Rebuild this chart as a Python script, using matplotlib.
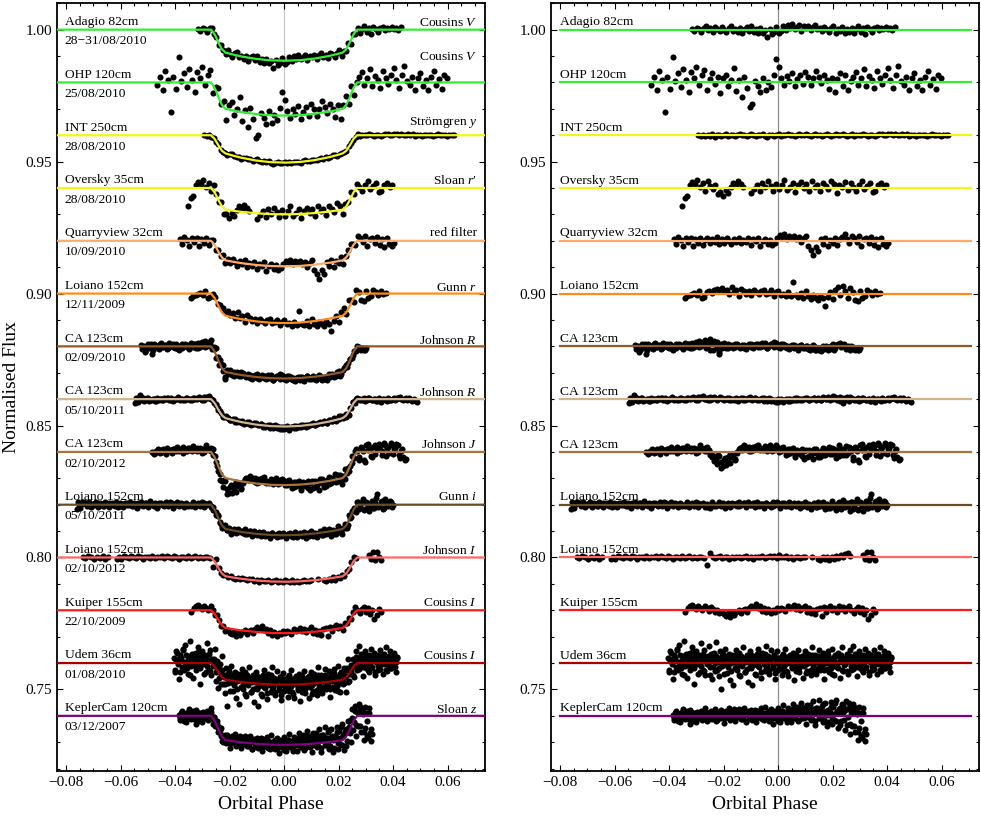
import matplotlib
matplotlib.use("Agg")
import matplotlib.pyplot as plt
import numpy as np
from matplotlib.ticker import MultipleLocator, FuncFormatter

plt.rcParams['font.family'] = ['Liberation Serif', 'DejaVu Serif']
plt.rcParams['mathtext.fontset'] = 'custom'
plt.rcParams['mathtext.rm'] = 'Liberation Serif'
plt.rcParams['mathtext.it'] = 'Liberation Serif:italic'

# ---------------- data ----------------
NAMES = ["Adagio 82cm", "OHP 120cm", "INT 250cm", "Oversky 35cm", "Quarryview 32cm",
         "Loiano 152cm", "CA 123cm", "CA 123cm", "CA 123cm", "Loiano 152cm",
         "Loiano 152cm", "Kuiper 155cm", "Udem 36cm", "KeplerCam 120cm"]
DATES = ["28\u221231/08/2010", "25/08/2010", "28/08/2010", "28/08/2010", "10/09/2010",
         "12/11/2009", "02/09/2010", "05/10/2011", "02/10/2012", "05/10/2011",
         "02/10/2012", "22/10/2009", "01/08/2010", "03/12/2007"]
FILTERS = ["Cousins $V$", "Cousins $V$", "Str\u00f6mgren $y$", "Sloan $r$\u2032", "red filter",
           "Gunn $r$", "Johnson $R$", "Johnson $R$", "Johnson $J$", "Gunn $i$",
           "Johnson $I$", "Cousins $I$", "Cousins $I$", "Sloan $z$"]
OFFSETS = [1.00, 0.98, 0.96, 0.94, 0.92, 0.90, 0.88, 0.86, 0.84, 0.82, 0.80, 0.78, 0.76, 0.74]
COLORS = ["#33ee33", "#33ee33", "#f5f51a", "#f5f51a", "#ffaa66", "#ff8c1a", "#8f5a26",
          "#d2b48c", "#a8743c", "#6b4a26", "#ff6666", "#ff1a1a", "#aa0000", "#800080"]
DEPTH_CENTER = [0.0118, 0.0126, 0.0104, 0.0100, 0.0097, 0.0112, 0.0122, 0.0104, 0.0126,
                0.0116, 0.0092, 0.0087, 0.0082, 0.0110]
DEPTH_EDGE = [0.0087, 0.0100, 0.0069, 0.0082, 0.0074, 0.0084, 0.0097, 0.0072, 0.0099,
              0.0092, 0.0071, 0.0067, 0.0063, 0.0092]
FILTER_DY = [0.0026, 0.0096, 0.0050, 0.0027, 0.0029, 0.0023, 0.0023, 0.0025, 0.0030,
             0.0029, 0.0025, 0.0029, 0.0025, 0.0025]

# transit contact phases and shape knots
T_INNER = 0.0215
T_OUTER = 0.0268
INGRESS_FRAC = [0.0, 0.25, 0.5, 0.75, 1.0]
INGRESS_DEPTH = [0.0, 0.2, 0.55, 0.85, 1.0]
BOTTOM_FRAC = [0.0, 0.25, 0.5, 0.75, 0.9, 1.0]
BOTTOM_SHAPE = [1.0, 0.94, 0.75, 0.44, 0.19, 0.0]

# observation phase ranges (segments) per dataset
SEG_ADAGIO = [(-0.0315, 0.0428)]
SEG_OHP = [(-0.0465, 0.0597)]
SEG_INT = [(-0.0292, 0.0623)]
SEG_OVERSKY = [(-0.0352, -0.0127), (-0.0098, 0.0397)]
SEG_QUARRY = [(-0.0383, 0.0403)]
SEG_LOI09 = [(-0.0343, 0.0373)]
SEG_CA10 = [(-0.0526, 0.0302), (-0.0522, 0.0298)]
SEG_CA11 = [(-0.0547, 0.0489), (-0.0543, 0.0485)]
SEG_CA12 = [(-0.0483, 0.0446), (-0.0479, 0.0442)]
SEG_LOI11 = [(-0.0761, 0.0400), (-0.0757, 0.0396)]
SEG_LOI12 = [(-0.0739, -0.0645), (-0.0614, -0.0273), (-0.0262, -0.0262), (-0.0250, -0.0250),
             (-0.0240, 0.0099), (0.0125, 0.0125), (0.0147, 0.0263), (0.0312, 0.0355)]
SEG_KUIPER = [(-0.0340, 0.0355)]
SEG_UDEM = [(-0.0403, 0.0416), (-0.0401, 0.0414)]
SEG_KEPLER = [(-0.0385, 0.0322), (-0.0383, 0.0320)]

# residuals in units of 1e-4 flux
RES_ADAGIO = [[2, -5, 8, 4, -9, 6, 12, -3, 5, -7, 9, 3, -6, 11, 0, -10, 7, 14, -4, 2,
               -8, 6, -12, 4, 10, -5, 13, -9, 1, -14, 5, -11, -3, -28, 3, -15, -8, 9, -13, -6,
               12, -2, 16, 7, 22, 4, 10, 18, -4, 13, 6, 15, -3, 9, 17, 1, 8, -6, 11, 3,
               -9, 5, 14, -12, 2, -5, 10, -14, 4, -8, 8, -11, 1, 12, -7, 5, -16, 9, 3, -10,
               6, 11, -2, 8, 4, 10, 1, 7, -3, 9]]
RES_OHP = [[-8, 20, -30, 45, 10, -112, 22, -25, 98, 5, 35, -18, 52, 8, -35, 40, 15, 60, -10, 28,
            48, -28, 12, 35, -5, 22, -40, 18, 30, -15, 8, 55, -32, 10, -55, 20, -20, -92, -80, 5,
            -12, -35, 15, -28, 2, -18, 30, 88, 60, 18, -8, 25, 5, 35, -15, 12, 28, -5, 40, 20,
            -10, 15, 45, 22, -3, 30, 8, -25, 18, -38, 12, 35, -15, 28, -30, 5, 22, 40, -8, 15,
            50, -12, 25, 8, -22, 42, 18, -5, 30, 55, 10, -20, 28, 62, 5, -8, 20, -30, 15, 35,
            -15, 8, -28, 22, 45, -10, 12, -25, 30, 18]]
RES_INT = [[2, -3, 1, -4, 0, -2, 3, -5, -1, 2, -3, 1, 4, -2, 0, 2, -4, 1, 3, -1,
            0, -3, 2, 5, -1, -4, 1, 0, 3, -2, -5, -1, 2, -3, 0, 4, -2, 1, -1, 3,
            0, 2, -3, 1, 5, 2, -1, 3, 0, -2, 1, 4, -1, 2, -3, 0, 3, 1, -2, 2,
            4, 0, -1, 5, 2, -2, 1, 3, -3, 0, 2, -1, 3, 0, -4, 1, 2, -2, 0, 3,
            5, 2, 1, 6, 3, 0, 4, -1, 2, 5, 1, 3, -2, 0, 2, -3, 1, -1, 2, 0,
            -2, 1, 3, -1, 0, 2, -3, 1, 0, -1]]
RES_OVERSKY = [[-68, -38, -32, 10, 22, 15, 30, 5, 18, -10, 25, 8, -5, 12, -22, -15, -30, -8, -18, 5,
                20, 12, 28, 15, 5],
               [-20, -5, 10, -12, 18, 2, 25, 8, -10, 15, -5, 12, 30, -8, 5, 20, -15, 10, 22, 0,
                15, -10, 25, 5, 12, -12, 20, 8, -5, 28, 15, -18, 10, 2, 22, -8, 18, 5, -12, 12,
                25, -5, 8, 20, -15, -10, 10, 18, 5, 12]]
RES_QUARRY = [[8, -12, 15, 2, -18, 10, -5, 12, -20, 5, -8, 10, -15, 3, 12, -10, 6, -4, 14, -12,
               5, -8, 10, 0, -14, 8, -3, 12, -10, 4, -6, 10, -15, 5, -2, 12, -18, 0, 8, -12,
               3, -15, -8, 10, 22, 15, 25, 8, 18, 12, 20, 5, 15, -5, 10, 18, -20, -35, -55, -25,
               -40, 5, -12, 10, -18, 2, -8, 12, -15, 5, 15, 25, 8, -10, 20, 12, -5, 18, -20, 8,
               12, -8, 15, -15, 5, -22, 10, -12, -18, -8]]
RES_LOI09 = [[-15, -8, -5, 0, 2, -5, 8, -18, -12, 5, 10, 2, 15, 18, 12, 20, 8, 15, 0, 25,
              5, 12, -8, 18, 8, 0, 10, -5, 12, 5, -3, 8, 15, 0, 2, 12, -8, 5, 10, -5,
              0, -10, 5, -8, 45, -5, -12, 2, -15, 8, -10, -20, -5, -15, -25, -8, -18, -48, -12, 5,
              -20, 15, 25, -5, 30, 10, -15, 20, 5, -25, -30, 10, -18, -8, 15, 5, -5, 8, 0, 3]]
RES_CA10 = [[5, -8, -22, 10, -5, -28, 8, 2, -10, 12, -3, 6, -8, 4, 10, -5, 2, -12, 8, 0,
             5, -10, 12, -2, 8, -6, 3, 15, -4, 6, 18, 25, 5, -12, 12, 20, -8, -30, 10, 2,
             -5, 8, 0, -6, 10, 4, -3, 6, -8, 2, 8, -4, 5, 10, -2, 6, 0, 12, -5, 3,
             8, 15, 5, -2, 10, 0, 6, -6, 2, -3, 5, -8, 0, 4, -5, 2, -10, -3, 5, -12,
             -8, -15, -5, -10, 0, -12, 3, 8, -6, 10, 12, 5, 2, -5, -8, 0, -10, -6, -12, -8],
            [-10, 3, -15, 0, 8, -12, 5, -6, 10, -2, 6, -9, 12, 0, -4, 8, -10, 3, -6, 9,
             -3, 6, 0, 10, -8, 12, -2, 8, 20, 2, 10, -5, 15, 28, -15, 8, 16, -20, -5, 12,
             0, -8, 7, 3, -4, 9, -6, 0, 5, -10, 3, 10, -6, 0, 8, -3, 12, 2, -8, 6,
             10, -2, 14, 4, -6, 8, -4, 0, -10, 5, -6, 2, -12, 6, -2, -8, 3, -14, -4, 0,
             -15, -5, -18, 2, -8, -3, -10, 5, -14, 6, 8, -2, 10, -10, 0, -14, -4, -15, -6, -12]]
RES_CA11 = [[-16, 0, 14, -2, -6, 3, -8, -4, 0, -7, -3, 2, -5, -1, 4, -3, -6, 0, 2, -4,
             1, -2, 5, 0, -3, 3, -1, 8, 2, -4, 10, 4, 0, 6, -2, 3, 8, -1, 5, 2,
             -3, 0, 4, -2, 2, -5, 0, 3, -3, 1, 6, 2, -2, 5, 0, -4, -1, 3, -6, -3,
             0, -8, -3, -10, 2, -5, -1, -6, 0, -4, 3, -2, 0, -5, 4, 1, -3, 2, 6, 0,
             2, -4, 5, 0, 8, 3, -1, 10, 4, -6, -14, -2, 5, 8, 2, -3, 0, -6, 3, -1,
             -5, 0, -8, -2, -5, 2, -6, 0, -3, 4, 2, 5, 0, -3, 3, -1, 1, -2, -4, -12],
            [4, -10, 8, 3, -4, 6, -2, 2, -6, 5, 1, -4, 3, 6, -2, 4, -5, 2, 7, -1,
             -5, 4, 2, -3, 6, -1, 5, 3, -2, 9, 6, 12, 2, -3, 7, 0, 4, -4, 8, 3,
             -1, 5, -4, 2, -2, 6, -6, 1, 4, -3, 2, 8, -1, 3, -5, 0, 4, -7, 1, 5,
             -6, -2, -9, 0, -4, -12, -3, 2, -7, 1, -3, 4, -5, 2, -1, 6, -4, 0, 3, -2,
             5, -3, 7, 1, 4, -5, 11, 6, -2, 8, -4, 3, 9, -8, 5, 1, -4, 4, -2, 6,
             -3, 2, -6, 3, -9, 0, -4, 5, -2, 1, -5, 3, 7, -1, 2, -4, 5, -6, 0, -8]]
RES_CA12 = [[0, -5, 3, 8, -2, 5, -6, 2, 6, 10, 4, 12, 8, -3, 10, 5, 14, 2, 8, 15,
             6, 10, -2, 18, 12, 5, 20, 8, -5, -15, -25, -10, -40, -55, -22, -35, -8, -18, -30, -5,
             12, 18, 10, 20, 5, 15, 8, 22, 14, 6, 10, 18, 5, 25, 12, 8, 20, 0, 15, 10,
             5, -8, 10, 3, -12, 8, -5, -15, 2, -18, 8, -10, 12, -5, -20, 5, -12, 10, -2, -8,
             15, -5, 8, -15, 12, 2, -10, 18, 5, -20, 10, -32, 25, 8, -15, 20, -8, 12, 22, -12,
             28, 15, -5, 25, 10, 30, -10, 5, -18, -25],
            [-8, 5, 12, -3, 10, 0, 15, 6, -4, 12, 18, 2, 10, 20, 5, 14, 8, 22, 10, 4,
             16, -3, 12, 25, 8, 15, 2, -10, -20, -35, -45, -15, -60, -30, -50, -20, -42, -12, -25, 0,
             15, 8, 25, 12, 20, 2, 18, 10, 28, 15, 8, 22, 12, 15, 5, 20, 25, 10, 2, 18,
             -10, 12, -5, 15, -20, 5, -8, 10, -25, 8, -15, 5, -28, 12, -3, -18, 15, -10, 5, 20,
             -8, 12, -22, 25, 0, -12, 22, -5, 15, -30, 20, 5, -40, 30, 12, -20, 28, 10, 30, 5,
             35, -15, 20, 32, -8, 15, 25, -22, 10, -30]]
RES_LOI11 = [[-18, -8, 5, 12, 8, 3, -4, 2, 6, -3, 0, 4, -5, 2, 6, -2, 3, -6, 1, 5,
              -3, 2, 7, -1, 4, -4, 0, 5, -2, 3, 6, -3, 1, 4, -5, 2, 0, 6, -2, 3,
              -4, 1, 5, 0, -3, 3, 7, -1, 2, -5, 0, 4, -2, 3, -6, 1, 5, -3, 2, -4,
              -8, -2, 3, -5, 0, 6, -3, 2, -6, 1, 4, -2, 0, 5, -4, 2, 6, -1, 3, -3,
              0, 5, -2, 4, 1, -3, 6, 0, 3, -4, 2, 5, -1, 3, -5, 0, 4, -2, 6, 1,
              -3, 2, -6, 0, 3, -8, -2, 4, -10, -4, 2, -6, 0, -12, -4, 3, -8, 1, -5, -10,
              0, 8, -6, 12, -15, 5, -20, 10, -8, 2, -12, 8, 40, -5, 15, -14, 6, -3, 10, 0],
             [10, -12, 3, 8, -5, 12, -8, 0, 9, -10, 5, -6, 11, 2, -9, 7, -3, 10, -7, 4,
              -10, 6, 0, 12, -5, 8, -12, 3, 9, -4, 7, -8, 13, -2, 5, -11, 8, 2, -6, 10,
              -3, 9, -12, 4, 11, -6, 2, -9, 7, 0, -5, 10, -8, 6, -2, 12, -10, 4, 8, -7,
              3, -12, 9, 0, -6, 11, -4, 7, -14, 5, -9, 8, 2, -5, 12, -3, 6, -10, 9, -1,
              6, -8, 11, -4, 3, -12, 8, 0, -7, 10, -2, 9, -11, 5, 7, -6, 12, -9, 2, -4,
              8, -14, 4, 10, -8, 2, -16, 6, -10, 12, -6, 9, -18, 4, -12, 14, -8, -20, 10, -15,
              18, -10, 6, -22, 12, -5, 20, -16, 8, -25, 15, -12, 25, -8, 10, -18, 22, -6, 14, -10]]
RES_LOI12 = [[2, -3, 4, 0, -5, 3, -2, 5, -4, 1],
             [-4, 3, -6, 5, 0, -3, 4, 2, -2, 6, 0, -4, 3, 1, -2, 5, -3, 2, 0, 4,
              -2, 6, 1, -3, 5, 0, -5, 3, 2, -1, 4, -2, 0, 5, -3, 2, -1, 3, 0, -2],
             [-30],
             [18],
             [2, -3, 0, 4, -2, 3, 0, -4, 2, -1, 3, 0, -3, 2, 4, -2, 1, -4, 3, 0,
              2, 5, -1, 3, 6, 0, 4, -2, 8, 3, 0, 5, -3, 2, -4, 1, 3, -2, 0, 2],
             [2],
             [-5, -10, 0, -6, 3, -8, 2, -4, 5, -3, 8, 0, 12, 18, 4],
             [8, -5, 20, -10, 22, 2, -8]]
RES_KUIPER = [[-5, 8, 15, 20, 12, 5, 18, 10, 2, 15, 8, -3, 12, 5, -8, 2, -12, -5, -15, -20,
               -10, -25, -8, -18, -5, 2, -12, 0, 5, -6, 10, 18, 12, 25, 8, 15, -2, 10, -8, 5,
               -10, 0, -5, 8, 2, 10, 5, -3, 15, 8, 12, 20, 5, 15, 2, 10, 18, -5, 8, -10,
               0, -15, 5, 10, -22, 12, -5, 8, 15, 2, 10, -8, 15, 5, 12, -2, 8, 18, 0, -10,
               5, 12, -5, 8, -15, 2, -32, -18, 5, -8]]
RES_UDEM = [[20, -35, 45, 5, -60, 30, 10, -15, 55, -25, 70, 0, -40, 25, 85, -10, 35, -55, 15, 40,
             -20, 60, 5, -80, 25, 45, -5, 30, -35, 75, 10, -25, 50, -45, 20, 0, 65, -15, 35, -60,
             15, 40, -30, 80, 5, -20, 45, -100, 25, 10, -40, 55, 20, -15, 35, -65, 0, 30, -85, 15,
             50, -25, 10, 40, -50, 20, -10, 60, -35, 5, 30, -70, 15, 45, -20, -85, 25, 0, -45, 35,
             55, -15, 20, -55, 40, 5, -30, 65, -10, 25, -40, 15, 50, -20, 30, -60, 10, 45, -25, 0,
             20, -45, 35, -10, 55, -30, 15, -50, 25, 5, -20, 40, -65, 10, 30, -15, 50, -35, 0, 25,
             -55, 20, 45, -5, -30, 35, 10, -45, 60, -20, 15, 30, -40, 5, 50, -25, 20, -10, 40, -60,
             25, 0, 45, -35, 15, -20, 55, 10, -45, 30, -15, 40, 5, -55, 25, 60, -30, 10, -5, 35,
             -40, 20, 50, -25, 0, 65, -10, 30, -50, 15, 45, -20, 25, 5, -35, 55, -15, 20, 40, -45,
             10, 30, -25, 50, -5, 20, -40, 35, 0, 60, -30, 15, 45, -20, 25, -10, 40, 5, -35, 20],
            [-25, 10, 40, -5, 15, -35, 20, 50, -15, 5, 30, -20, 10, 0, -45, 20, -8, 35, 12, -28,
             18, -2, 45, -20, 8, 28, -40, 0, 22, -12, 10, 35, -30, 15, -5, 25, 5, -45, 18, 30,
             -15, 2, 28, -25, 12, -50, 20, 8, -10, 35, -5, 18, -38, 25, 0, 12, -30, 22, 5, -20,
             32, -10, 15, -45, 8, 28, -2, 18, -35, 10, -22, 20, 5, -15, 30, -8, 12, -40, 22, 2,
             -12, 25, 8, -32, 15, -2, 35, -20, 10, 22, -28, 5, 18, -10, 30, -38, 12, 0, 20, -18,
             8, 28, -25, 15, -5, 22, -35, 10, 2, 32, -15, 20, -8, 12, -30, 25, 5, -20, 18, -2,
             28, -12, 8, -38, 22, 0, 15, -25, 30, -8, 10, -32, 20, 5, -18, 28, -10, 12, 2, -28,
             18, 8, -22, 30, -5, 15, -40, 10, 22, -12, 0, 25, -18, 8, 32, -28, 12, -8, 20, 5,
             -30, 15, 28, -10, 2, -22, 18, 35, -15, 8, 22, -5, 12, -25, 30, 0, -18, 20, 10, -32,
             5, 28, -12, 18, -22, 8, 32, -2, 15, -28, 20, -10, 25, 2, -20, 12, 30, -15, 5, 22]]
RES_KEPLER = [[5, -10, 15, 0, -20, 8, 12, -5, 18, -12, 3, 10, -8, -30, 15, -3, 6, -15, 10, 0,
               12, -6, 8, -10, 4, 15, -2, 10, -12, 6, 0, 14, -8, 5, -15, 10, 2, -5, 12, -10,
               8, 20, -3, 6, -12, 15, 0, 25, -8, 5, 10, -5, 14, -12, 3, 8, -20, 6, 12, -2,
               15, 0, -8, 22, 5, -10, 10, 2, -6, 12, -15, 5, 8, -3, 18, 0, -12, 10, 4, -8,
               12, -18, 6, -5, 20, 2, -10, 8, -25, 5, 14, -3, 10, 25, -8, 6, 18, -15, 12, 30,
               5, -10, 22, 35, -5, 15, 40, -12, 8, 25, -20, 30, 10, -8, 18, 2, 45, -15, 20, 5,
               -25, 15, 35, -10, 8, 50, -20, 12, 25, -35, 10, 40, -15, 22, 55, -5, 30, -30, 15, 45,
               -40, 20, 8, -60, 35, -20, -85, 10, -50, -70],
              [-15, 10, 20, -5, 8, -22, 12, 25, -10, 3, 18, -12, 5, 22, -18, 0, 10, -25, 15, 8,
               -8, 20, -15, 5, 28, -5, -20, 12, 2, 18, -12, 8, 25, -18, 0, 15, -10, 22, 5, -28,
               12, -3, 18, 30, -15, 8, -8, 20, -20, 10, 2, 25, -12, 15, -5, 28, -22, 6, 18, -10,
               22, -15, 0, 12, -25, 20, 8, -5, 30, -12, 10, 35, -8, 15, -18, 5, 25, -30, 18, 2,
               -10, 28, 12, -22, 20, 40, -5, 15, -15, 30, 8, -25, 22, 45, -10, 18, 35, -20, 10, 50,
               -8, 28, 15, -30, 40, 5, 25, -15, 55, 12, -35, 30, 20, 60, -10, 38, -25, 15, 48, -40,
               22, 8, 52, -30, 35, -15, 60, 20, -45, 30, -20, 45, 10, -55, 25, -35, 50, -70, 15, -40,
               35, -60, 20, -90, -45, 10, -75, 30, -65, -95]]

SEGMENTS = [SEG_ADAGIO, SEG_OHP, SEG_INT, SEG_OVERSKY, SEG_QUARRY, SEG_LOI09, SEG_CA10,
            SEG_CA11, SEG_CA12, SEG_LOI11, SEG_LOI12, SEG_KUIPER, SEG_UDEM, SEG_KEPLER]
RESIDUALS = [RES_ADAGIO, RES_OHP, RES_INT, RES_OVERSKY, RES_QUARRY, RES_LOI09, RES_CA10,
             RES_CA11, RES_CA12, RES_LOI11, RES_LOI12, RES_KUIPER, RES_UDEM, RES_KEPLER]


def model_drop(phase, d_center, d_edge):
    a = np.abs(np.asarray(phase, dtype=float))
    out = np.zeros_like(a)
    ing = (a > T_INNER) & (a < T_OUTER)
    frac = (T_OUTER - a[ing]) / (T_OUTER - T_INNER)
    out[ing] = d_edge * np.interp(frac, INGRESS_FRAC, INGRESS_DEPTH)
    bot = a <= T_INNER
    out[bot] = d_edge + (d_center - d_edge) * np.interp(a[bot] / T_INNER, BOTTOM_FRAC, BOTTOM_SHAPE)
    return out


# ---------------- figure ----------------
fig = plt.figure(figsize=(9.81, 8.19), dpi=100)
axL = fig.add_axes([57 / 981, 48 / 819, 428 / 981, 768 / 819])
axR = fig.add_axes([551 / 981, 48 / 819, 428 / 981, 768 / 819])

XLIM = (-0.0833, 0.0737)
YLIM = (0.7191, 1.0101)
TXT = 9.7

minus_fmt = FuncFormatter(lambda v, p: ("%.2f" % v).replace("-", "\u2212"))

for ax in (axL, axR):
    ax.set_xlim(*XLIM)
    ax.set_ylim(*YLIM)
    ax.xaxis.set_major_locator(MultipleLocator(0.02))
    ax.xaxis.set_minor_locator(MultipleLocator(0.005))
    ax.yaxis.set_major_locator(MultipleLocator(0.05))
    ax.yaxis.set_minor_locator(MultipleLocator(0.01))
    ax.xaxis.set_major_formatter(minus_fmt)
    ax.yaxis.set_major_formatter(minus_fmt)
    ax.tick_params(which='both', direction='in', top=True, right=True, labelsize=11, width=0.8)
    ax.tick_params(which='major', length=4.5)
    ax.tick_params(which='minor', length=2.5)
    for s in ax.spines.values():
        s.set_linewidth(1.3)
    ax.set_xlabel("Orbital Phase", fontsize=14, labelpad=5)

axL.set_ylabel("Normalised Flux", fontsize=14, labelpad=4)
axL.axvline(0.0, color='#c8c8c8', lw=0.9, zorder=1)
axR.axvline(0.0, color='#8c8c8c', lw=0.9, zorder=1)

grid = np.linspace(XLIM[0], XLIM[1], 1200)

for i in range(len(NAMES)):
    off = OFFSETS[i]
    col = COLORS[i]
    dc, de = DEPTH_CENTER[i], DEPTH_EDGE[i]
    ph_all, res_all = [], []
    for (a, b), res in zip(SEGMENTS[i], RESIDUALS[i]):
        ph = np.linspace(a, b, len(res))
        ph_all.append(ph)
        res_all.append(np.asarray(res, dtype=float) * 1e-4)
    ph_all = np.concatenate(ph_all)
    res_all = np.concatenate(res_all)

    # left: data = model + residual
    axL.plot(ph_all, off - model_drop(ph_all, dc, de) + res_all, 'o', color='black',
             ms=4.4, mew=0, zorder=2)
    axL.plot(grid, off - model_drop(grid, dc, de), color=col, lw=1.6, zorder=3)
    # right: residuals around offset
    axR.plot(ph_all, off + res_all, 'o', color='black', ms=4.4, mew=0, zorder=2)
    axR.plot([-0.08, 0.0706], [off, off], color=col, lw=1.6, zorder=3)

    axL.text(-0.0805, off + 0.0029, NAMES[i], fontsize=TXT, ha='left', va='center')
    axL.text(-0.0805, off - 0.0044, DATES[i], fontsize=TXT, ha='left', va='center')
    axL.text(0.0708, off + FILTER_DY[i], FILTERS[i], fontsize=TXT, ha='right', va='center')
    axR.text(-0.0800, off + 0.0028, NAMES[i], fontsize=TXT, ha='left', va='center')

fig.savefig("out.png", dpi=100)
